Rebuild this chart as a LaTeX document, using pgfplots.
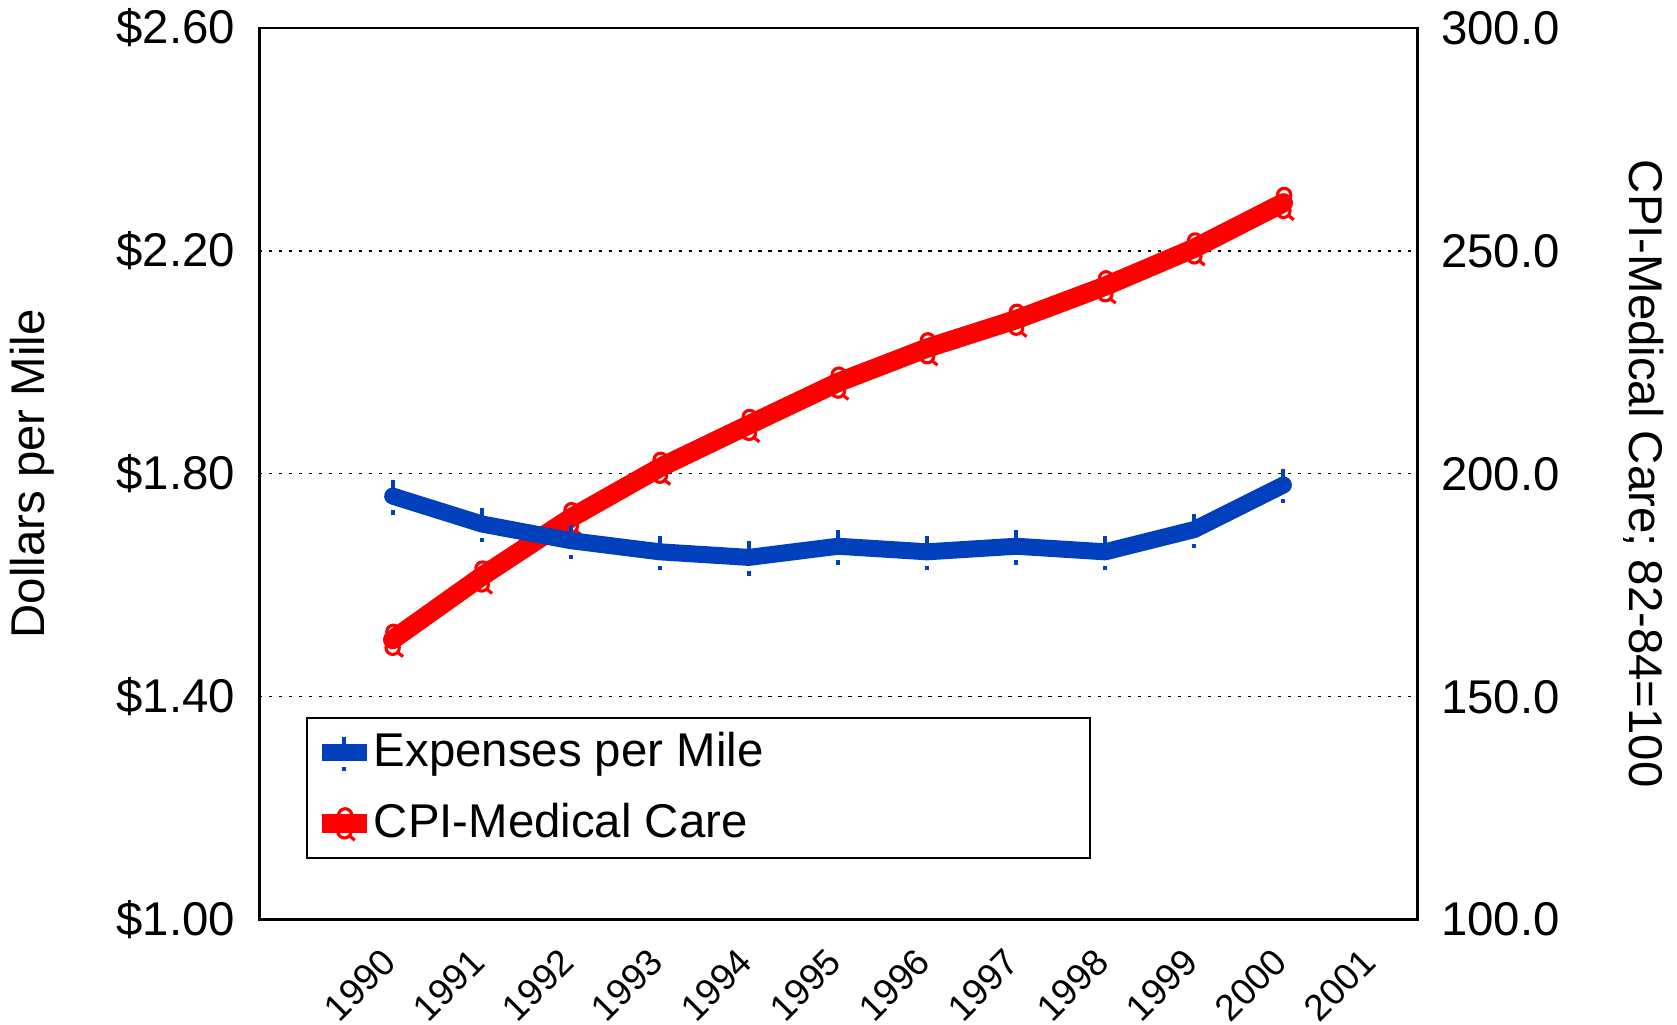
\documentclass[border=0pt]{standalone}
\usepackage{pgfplots}
\pgfplotsset{compat=1.18}
\usepackage{fontspec}
\setmainfont{Liberation Sans}
\definecolor{expblue}{RGB}{0,64,188}
\definecolor{cpired}{RGB}{255,0,0}
% Excel-like markers: bar with a detached dot below, and a doubled ring with a tail
\pgfdeclareplotmark{expbar}{%
  \pgfpathmoveto{\pgfqpoint{0pt}{4.3pt}}%
  \pgfpathlineto{\pgfqpoint{0pt}{-1pt}}%
  \pgfusepathqstroke
  \pgfpathrectangle{\pgfqpoint{-0.55pt}{-5pt}}{\pgfqpoint{1.1pt}{1.2pt}}%
  \pgfusepathqfill}
\pgfdeclareplotmark{cpiring}{%
  \pgfpathcircle{\pgfqpoint{0.2pt}{2.1pt}}{1.8pt}%
  \pgfpathcircle{\pgfqpoint{0pt}{-2.2pt}}{1.8pt}%
  \pgfpathmoveto{\pgfqpoint{1.3pt}{-3.4pt}}%
  \pgfpathlineto{\pgfqpoint{2.8pt}{-4.6pt}}%
  \pgfusepathqstroke}
\pgfplotsset{
  chartbase/.style={
    width=313pt, height=241pt, scale only axis,
    xmin=1988.5, xmax=2001.5,
    xtick={1990,1991,1992,1993,1994,1995,1996,1997,1998,1999,2000,2001},
    major tick length=0pt,
    tick label style={font=\fontsize{12.8}{15}\selectfont},
    label style={font=\fontsize{12.8}{15}\selectfont},
    axis line style={line width=0.8pt},
  },
  expstyle/.style={expblue, line width=4.6pt, line join=round, line cap=round,
    mark=expbar, mark options={line width=1.1pt, solid, line cap=butt}},
  cpistyle/.style={cpired, line width=5.2pt, line join=round, line cap=round,
    mark=cpiring, mark options={line width=0.85pt, solid, line cap=butt}},
}
\begin{document}
\begin{tikzpicture}
% right axis: CPI
\begin{axis}[
    chartbase,
    axis y line*=right,
    axis x line=none,
    ymin=100, ymax=300,
    ytick={100,150,200,250,300},
    yticklabels={100.0,150.0,200.0,250.0,300.0},
    yticklabel style={xshift=3pt},
    ymajorgrids,
    grid style={black, line width=0.35pt, dash pattern=on 0.9pt off 1.8pt},
    ylabel={CPI-Medical Care; 82-84=100},
    ylabel style={rotate=180, at={(axis description cs:1.196,0.5)}, anchor=center},
]
\addplot[cpistyle] coordinates {
    (1990,162.8) (1991,177.0) (1992,190.1) (1993,201.4) (1994,211.0)
    (1995,220.5) (1996,228.2) (1997,234.6) (1998,242.1) (1999,250.6)
    (2000,260.8)
};
\end{axis}
% left axis: dollars per mile
\begin{axis}[
    chartbase,
    ymin=1, ymax=2.6,
    ytick={1,1.4,1.8,2.2,2.6},
    yticklabels={\$1.00,\$1.40,\$1.80,\$2.20,\$2.60},
    ytick pos=left, xtick pos=bottom,
    yticklabel style={xshift=-3pt},
    xticklabels={1990,1991,1992,1993,1994,1995,1996,1997,1998,1999,2000,2001},
    xticklabel style={yshift=-7.3pt, xshift=1.5pt, rotate=45, anchor=east,
      font=\fontsize{10}{12}\selectfont},
    ylabel={Dollars per Mile},
    ylabel style={at={(axis description cs:-0.196,0.5)}, anchor=center},
    legend style={at={(axis description cs:0.0406,0.068)}, anchor=south west,
      draw=black, line width=0.6pt, inner xsep=1.5pt, inner ysep=2pt, row sep=4.3pt,
      font=\fontsize{12.8}{15}\selectfont, cells={anchor=west}},
    legend image code/.code={
      \draw[mark repeat=2, mark phase=2, #1, line cap=butt]
        plot coordinates {(0cm,0cm) (0.21cm,0cm) (0.42cm,0cm)};
    },
]
\addplot[expstyle] coordinates {
    (1990,1.76) (1991,1.71) (1992,1.68) (1993,1.66) (1994,1.65)
    (1995,1.67) (1996,1.66) (1997,1.67) (1998,1.66) (1999,1.70)
    (2000,1.78)
};
\addlegendentry{\hspace{-2.6pt}\makebox[190pt][l]{Expenses per Mile}}
\addlegendimage{cpistyle}
\addlegendentry{\hspace{-2.6pt}\makebox[190pt][l]{CPI-Medical Care}}
\coordinate (bbsw) at (axis description cs:-0.2237,-0.1177);
\coordinate (bbne) at (axis description cs:1.2245,1.0314);
\end{axis}
\pgfresetboundingbox
\path[use as bounding box] (bbsw) rectangle (bbne);
\end{tikzpicture}
\end{document}
